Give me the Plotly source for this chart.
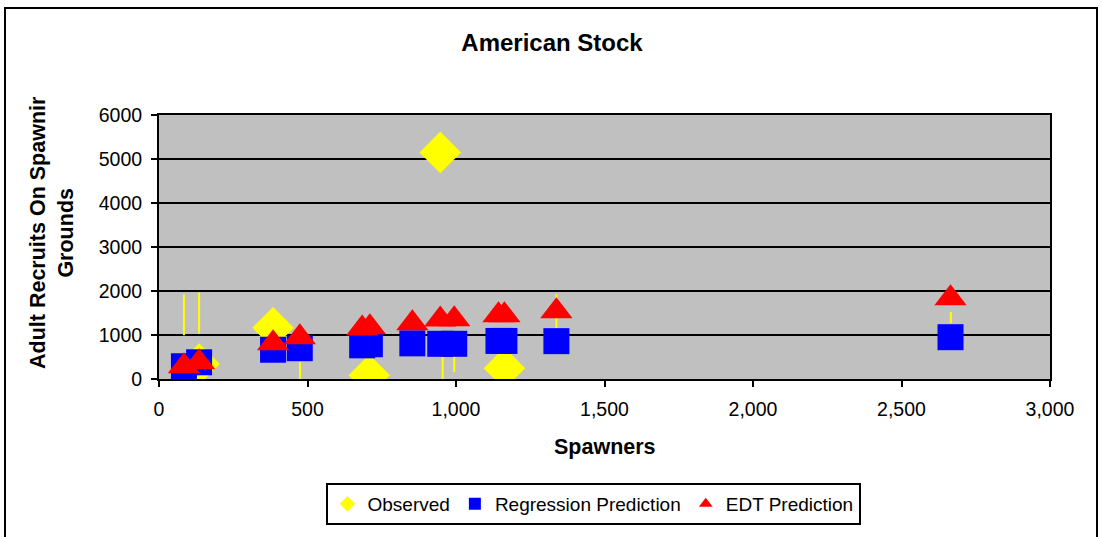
import plotly.graph_objects as go

# ---- data ----
obs_x = [135, 384, 708, 947, 1163]
obs_y = [340, 1165, 85, 5150, 245]

reg_x = [84, 135, 384, 474, 684, 710, 853, 947, 994, 1143, 1163, 1338, 2665]
reg_y = [290, 380, 665, 700, 765, 790, 810, 800, 800, 865, 865, 860, 950]

edt_x = [84, 135, 384, 474, 684, 710, 853, 947, 994, 1143, 1163, 1338, 2665]
edt_y = [290, 380, 810, 950, 1150, 1175, 1265, 1355, 1360, 1450, 1450, 1540, 1835]

# yellow vertical bars (x, low, high)
bar_x = [84, 135, 475, 955, 994, 1338, 2666]
bar_lo = [995, 1030, -140, -190, 160, 1160, 1265]
bar_hi = [1920, 1965, 385, 540, 540, 1925, 1525]

x_ticks = [0, 500, 1000, 1500, 2000, 2500, 3000]
y_ticks = [0, 1000, 2000, 3000, 4000, 5000, 6000]

FONT = "Liberation Sans, Arial, sans-serif"

seg_x, seg_y = [], []
for x, lo, hi in zip(bar_x, bar_lo, bar_hi):
    seg_x += [x, x, None]
    seg_y += [lo, hi, None]

fig = go.Figure()
fig.add_trace(go.Scatter(x=seg_x, y=seg_y, mode="lines",
                         line=dict(color="#FFFF00", width=2),
                         showlegend=False, hoverinfo="skip"))
fig.add_trace(go.Scatter(x=obs_x, y=obs_y, mode="markers", name="Observed",
                         marker=dict(symbol="diamond", size=32, color="#FFFF00",
                                     line=dict(width=0))))
fig.add_trace(go.Scatter(x=reg_x, y=reg_y, mode="markers", name="Regression Prediction",
                         marker=dict(symbol="square", size=26, color="#0000FF",
                                     line=dict(width=0))))
fig.add_trace(go.Scatter(x=edt_x, y=edt_y, mode="markers", name="EDT Prediction",
                         marker=dict(symbol="triangle-up", size=28, color="#FF0000",
                                     line=dict(width=0))))

W, H = 1102, 537
L, R, T, B = 159, 52, 115, 158
pw, ph = W - L - R, H - T - B

def px(xp):
    return (xp - L) / pw

def py(yp):
    return (H - B - yp) / ph

fig.update_layout(
    width=W, height=H,
    margin=dict(l=L, r=R, t=T, b=B),
    paper_bgcolor="white",
    plot_bgcolor="#C0C0C0",
    font=dict(family=FONT, size=19, color="black"),
    title=dict(text="<b>American Stock</b>", x=px(552), xref="paper", xanchor="center",
               y=1 - 43 / H, yanchor="middle", yref="container",
               font=dict(family=FONT, size=24, color="black")),
    xaxis=dict(range=[0, 3000], tickvals=x_ticks, tickformat=",",
               showgrid=False, zeroline=False,
               showline=True, linecolor="black", linewidth=2, mirror=True,
               ticks="outside", ticklen=6, tickwidth=2, tickcolor="black",
               ticklabelstandoff=6,
               tickfont=dict(family=FONT, size=19.5)),
    yaxis=dict(range=[0, 6000], tickvals=y_ticks,
               showgrid=True, gridcolor="black", gridwidth=2, zeroline=False,
               showline=True, linecolor="black", linewidth=2, mirror=True,
               ticks="outside", ticklen=6, tickwidth=2, tickcolor="black",
               ticklabelstandoff=5,
               tickfont=dict(family=FONT, size=19.5)),
    legend=dict(orientation="h", x=px(593), xanchor="center",
                y=py(504), yanchor="middle",
                bgcolor="white", bordercolor="black", borderwidth=2,
                font=dict(family=FONT, size=19), itemsizing="constant",
                itemwidth=30, traceorder="normal"),
    showlegend=True,
)

fig.add_annotation(text="<b>Spawners</b>", xref="paper", yref="paper",
                   x=px(605), y=py(447), xanchor="center", yanchor="middle",
                   showarrow=False, font=dict(family=FONT, size=21.5))
fig.add_annotation(text="<b>Adult Recruits On Spawnir<br>Grounds</b>",
                   xref="paper", yref="paper", x=px(52), y=py(233),
                   xanchor="center", yanchor="middle",
                   showarrow=False, textangle=-90,
                   font=dict(family=FONT, size=21.5))

fig.add_shape(type="rect", xref="paper", yref="paper",
              x0=px(5), x1=px(1097), y0=py(545), y1=py(8),
              line=dict(color="black", width=2), fillcolor="rgba(0,0,0,0)",
              layer="below")

fig.write_html("out.html", config={"displayModeBar": False},
               post_script="document.body.style.margin='0';document.body.style.overflow='hidden';")
